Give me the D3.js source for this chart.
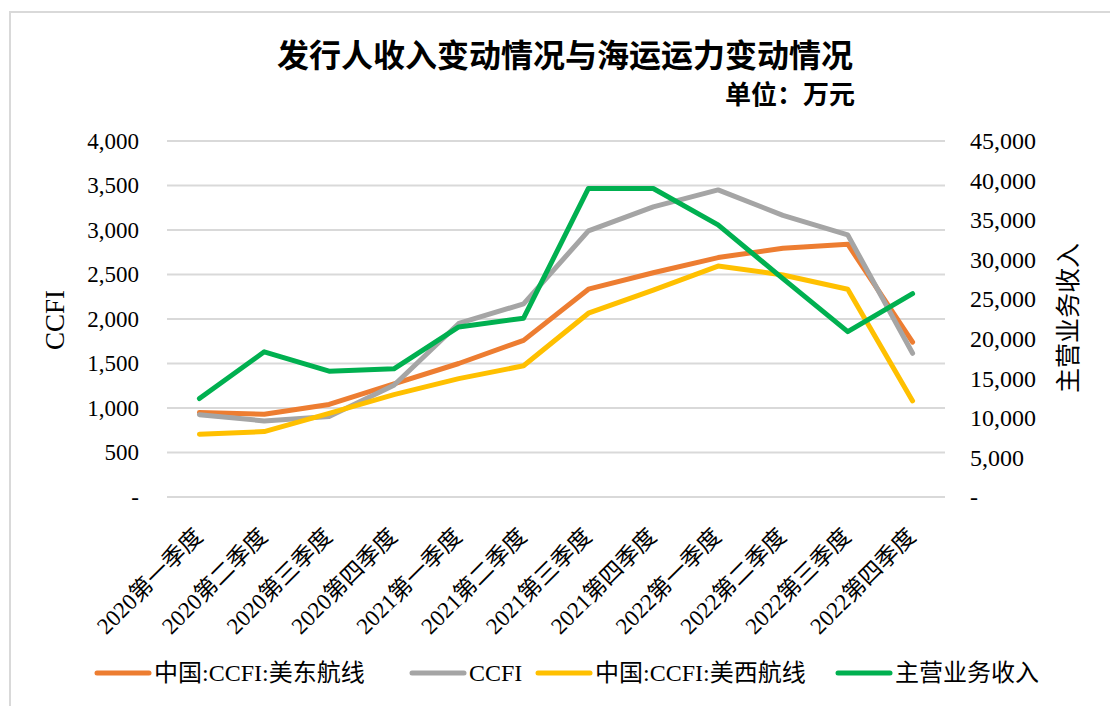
<!DOCTYPE html>
<html>
<head>
<meta charset="utf-8">
<script src="https://cdn.jsdelivr.net/npm/d3@7"></script>
<style>
  html, body { margin: 0; padding: 0; background: #fff; }
  svg { display: block; }
</style>
</head>
<body>
<svg id="chart" width="1110" height="706"></svg>
<script>
const categories = ["2020第一季度","2020第二季度","2020第三季度","2020第四季度","2021第一季度","2021第二季度","2021第三季度","2021第四季度","2022第一季度","2022第二季度","2022第三季度","2022第四季度"];
const ccfiUSEast = [950, 930, 1040, 1270, 1500, 1760, 2335, 2520, 2690, 2795, 2840, 1740];
const ccfi       = [925, 855, 905, 1255, 1950, 2170, 2990, 3260, 3450, 3165, 2945, 1615];
const ccfiUSWest = [705, 735, 940, 1150, 1330, 1475, 2065, 2325, 2595, 2495, 2335, 1080];
const revenue    = [12450, 18350, 15900, 16200, 21500, 22600, 39000, 39000, 34400, 27600, 20900, 25700];
const leftTicks  = [0, 500, 1000, 1500, 2000, 2500, 3000, 3500, 4000];
const rightTicks = [0, 5000, 10000, 15000, 20000, 25000, 30000, 35000, 40000, 45000];
const seriesNames = ["中国:CCFI:美东航线", "CCFI", "中国:CCFI:美西航线", "主营业务收入"];
const colors = ["#ED7D31", "#A5A5A5", "#FFC000", "#00B050"];

const svg = d3.select("#chart");
const serif = "'Liberation Serif','Times New Roman','Noto Sans CJK SC',serif";
const cjk = "'Noto Sans CJK SC','Liberation Serif',sans-serif";

// border
svg.append("path").attr("d", "M10,720 L10,12 L1120,12")
  .attr("fill", "none").attr("stroke", "#d9d9d9").attr("stroke-width", 2);

const plot = { left: 167, right: 945, top: 141, bottom: 497 };
const x = d3.scalePoint().domain(categories).range([plot.left, plot.right]).padding(0.5);
const yL = d3.scaleLinear().domain([0, 4000]).range([plot.bottom, plot.top]);
const yR = d3.scaleLinear().domain([0, 45000]).range([plot.bottom, plot.top]);

const fmt = v => v === 0 ? "-" : d3.format(",")(v);

// grid
svg.append("g").selectAll("line").data(leftTicks).join("line")
  .attr("x1", plot.left).attr("x2", plot.right)
  .attr("y1", d => yL(d)).attr("y2", d => yL(d))
  .attr("stroke", "#d9d9d9").attr("stroke-width", 2);

// left axis
const gL = svg.append("g").attr("transform", `translate(${plot.left},0)`)
  .call(d3.axisLeft(yL).tickValues(leftTicks).tickFormat(fmt).tickSize(0).tickPadding(28));
gL.select(".domain").remove();
gL.selectAll("text").attr("font-family", serif).attr("font-size", 23).attr("fill", "#000");

// right axis
const gR = svg.append("g").attr("transform", `translate(${plot.right},0)`)
  .call(d3.axisRight(yR).tickValues(rightTicks).tickFormat(fmt).tickSize(0).tickPadding(25));
gR.select(".domain").remove();
gR.selectAll("text").attr("font-family", serif).attr("font-size", 24).attr("fill", "#000");

// x axis labels
const gX = svg.append("g").attr("transform", `translate(0,${plot.bottom})`)
  .call(d3.axisBottom(x).tickSize(0).tickPadding(0));
gX.select(".domain").remove();
gX.selectAll(".tick text")
  .attr("font-family", serif).attr("font-size", 23).attr("fill", "#000")
  .attr("text-anchor", "end").attr("dy", 0).attr("y", 0)
  .attr("transform", "translate(4,41) rotate(-45)");

// lines
const lineL = d3.line().x((d, i) => x(categories[i])).y(d => yL(d));
const lineR = d3.line().x((d, i) => x(categories[i])).y(d => yR(d));
const series = [
  { data: ccfiUSEast, gen: lineL },
  { data: ccfi, gen: lineL },
  { data: ccfiUSWest, gen: lineL },
  { data: revenue, gen: lineR }
];
series.forEach((s, i) => {
  svg.append("path").attr("d", s.gen(s.data))
    .attr("fill", "none").attr("stroke", colors[i]).attr("stroke-width", 5)
    .attr("stroke-linejoin", "round").attr("stroke-linecap", "round");
});

// axis titles
svg.append("text").attr("transform", "translate(64,320) rotate(-90)")
  .attr("text-anchor", "middle").attr("font-family", serif).attr("font-size", 27)
  .text("CCFI");
svg.append("text").attr("transform", "translate(1077,318) rotate(-90)")
  .attr("text-anchor", "middle").attr("font-family", cjk).attr("font-size", 25)
  .text("主营业务收入");

// title
svg.append("text").attr("x", 565).attr("y", 67).attr("text-anchor", "middle")
  .attr("font-family", cjk).attr("font-weight", "bold").attr("font-size", 32)
  .text("发行人收入变动情况与海运运力变动情况");
svg.append("text").attr("x", 855).attr("y", 104).attr("text-anchor", "end")
  .attr("font-family", cjk).attr("font-weight", "bold").attr("font-size", 26)
  .text("单位：万元");

// legend
const legendX = [97, 412, 538, 838];
const lg = svg.append("g");
seriesNames.forEach((n, i) => {
  lg.append("line").attr("x1", legendX[i]).attr("x2", legendX[i] + 52)
    .attr("y1", 673).attr("y2", 673)
    .attr("stroke", colors[i]).attr("stroke-width", 5).attr("stroke-linecap", "round");
  lg.append("text").attr("x", legendX[i] + 57).attr("y", 681)
    .attr("font-family", serif).attr("font-size", 24).text(n);
});
</script>
</body>
</html>
